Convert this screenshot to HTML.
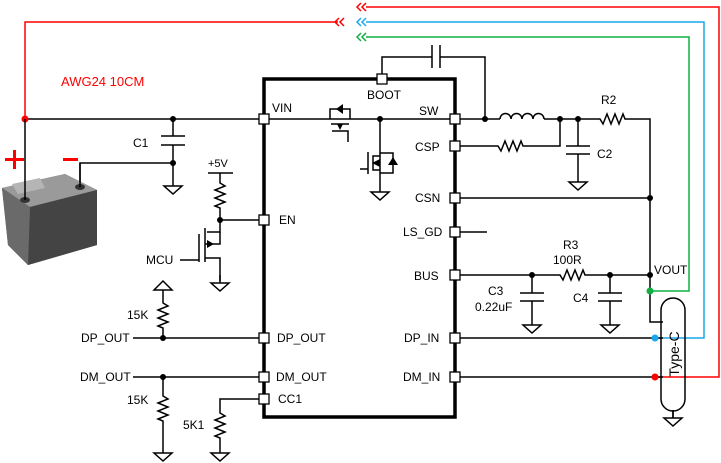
<!DOCTYPE html><html><head><style>body{margin:0;background:#fff}svg{display:block}text{font-family:"Liberation Sans",sans-serif;font-size:12px;fill:#000}</style></head><body>
<svg width="721" height="463" viewBox="0 0 721 463" xmlns="http://www.w3.org/2000/svg">
<defs>
<g id="gnd"><line x1="0" y1="0" x2="0" y2="8" stroke="#000" stroke-width="1.5"/><polygon points="-9,8 9,8 0,16" fill="#fff" stroke="#000" stroke-width="1.5"/></g>
<g id="resv"><polyline points="0,0 0,3 5,6 -5,10 5,14 -5,18 5,22 -5,26 0,28 0,30" fill="none" stroke="#000" stroke-width="1.5"/></g>
<g id="resh"><polyline points="0,0 3,0 6,5 10,-5 14,5 18,-5 22,5 26,-5 28,0 30,0" fill="none" stroke="#000" stroke-width="1.5"/></g>
</defs>
<g fill="none" stroke-width="1.5">
<polyline points="25,119 25,22 338,22" stroke="#f00"/>
<path d="M339,18 335,22 339,26 M344,18 340,22 344,26" stroke="#f00"/>
<path d="M361,3 357,7 361,11 M366,3 362,7 366,11" stroke="#f00"/>
<path d="M361,18 357,22 361,26 M366,18 362,22 366,26" stroke="#1aa7ec"/>
<path d="M361,33 357,37 361,41 M366,33 362,37 366,41" stroke="#10b040"/>
<polyline points="366,7 719,7 719,377 655,377" stroke="#f00"/>
<polyline points="366,22 704,22 704,338 655,338" stroke="#1aa7ec"/>
<polyline points="366,37 689,37 689,291 650,291" stroke="#10b040"/>
</g>
<g fill="none" stroke="#000" stroke-width="1.5">
<line x1="25" y1="119" x2="264" y2="119"/>
<line x1="173" y1="119" x2="173" y2="136"/>
<line x1="161" y1="136" x2="185" y2="136"/><line x1="161" y1="145" x2="185" y2="145"/>
<line x1="173" y1="145" x2="173" y2="178"/>
<polyline points="80,187 80,163 173,163"/>
<line x1="208" y1="173" x2="233" y2="173"/>
<line x1="220" y1="173" x2="220" y2="180"/>
<use href="#resv" x="220" y="180"/>
<polyline points="220,210 220,220 264,220"/>
<polyline points="220,220 220,232 207,232"/>
<line x1="205" y1="228" x2="205" y2="262"/>
<line x1="199" y1="234" x2="199" y2="262"/>
<polyline points="180,260 199,260"/>
<polyline points="205,244 220,244 220,232"/>
<polyline points="205,258 220,258 220,281"/>
<line x1="133" y1="338" x2="264" y2="338"/>
<line x1="163" y1="290" x2="163" y2="300"/>
<use href="#resv" x="163" y="300"/>
<line x1="163" y1="330" x2="163" y2="338"/>
<line x1="133" y1="377" x2="264" y2="377"/>
<line x1="163" y1="377" x2="163" y2="393"/>
<use href="#resv" x="163" y="393"/>
<line x1="163" y1="423" x2="163" y2="445"/>
<polyline points="264,399 220,399 220,410"/>
<use href="#resv" x="220" y="410"/>
<line x1="220" y1="440" x2="220" y2="445"/>
<line x1="264" y1="119" x2="455" y2="119"/>
<line x1="380" y1="119" x2="380" y2="184"/>
<polyline points="382,79 382,57 432,57"/><line x1="432" y1="45" x2="432" y2="68"/><line x1="440" y1="45" x2="440" y2="68"/>
<polyline points="440,57 485,57 485,119"/>
<line x1="455" y1="119" x2="500" y2="119"/>
<path d="M500,119 a5.5,5.5 0 0 1 11,0 a5.5,5.5 0 0 1 11,0 a5.5,5.5 0 0 1 11,0 a5.5,5.5 0 0 1 11,0"/>
<line x1="544" y1="119" x2="597" y2="119"/>
<use href="#resh" x="597" y="119"/>
<polyline points="627,119 650,119 650,291 650,322 663,322"/>
<polyline points="455,146 495,146"/><use href="#resh" x="495" y="146"/><polyline points="525,146 560,146 560,119"/>
<line x1="578" y1="119" x2="578" y2="146"/>
<line x1="566" y1="146" x2="590" y2="146"/><line x1="566" y1="154" x2="590" y2="154"/>
<line x1="578" y1="154" x2="578" y2="174"/>
<line x1="455" y1="198" x2="650" y2="198"/>
<line x1="455" y1="232" x2="487" y2="232"/>
<line x1="455" y1="275" x2="557" y2="275"/><use href="#resh" x="557" y="275"/><line x1="587" y1="275" x2="650" y2="275"/>
<line x1="532" y1="275" x2="532" y2="293"/><line x1="520" y1="293" x2="544" y2="293"/><line x1="520" y1="301" x2="544" y2="301"/><line x1="532" y1="301" x2="532" y2="317"/>
<line x1="610" y1="275" x2="610" y2="293"/><line x1="598" y1="293" x2="622" y2="293"/><line x1="598" y1="301" x2="622" y2="301"/><line x1="610" y1="301" x2="610" y2="317"/>
<line x1="455" y1="338" x2="663" y2="338"/>
<line x1="455" y1="377" x2="663" y2="377"/>
<rect x="661" y="298" width="24" height="113" rx="12"/>
<line x1="673" y1="411" x2="673" y2="418"/>
</g>
<use href="#gnd" x="173" y="178"/><use href="#gnd" x="220" y="275"/><use href="#gnd" x="163" y="445"/><use href="#gnd" x="220" y="445"/>
<use href="#gnd" x="380" y="184"/><use href="#gnd" x="578" y="174"/><use href="#gnd" x="532" y="317"/><use href="#gnd" x="610" y="317"/><use href="#gnd" x="673" y="410"/>
<polygon points="154,290 172,290 163,281" fill="#fff" stroke="#000" stroke-width="1.5"/>
<g fill="none" stroke="#000" stroke-width="1.5">
<polyline points="330,119 330,109 350,109 350,119"/><line x1="331" y1="124" x2="349" y2="124"/><polyline points="332,131 348,131 348,142"/>
<polyline points="380,156 373,156 373,170 380,170"/><line x1="368" y1="152" x2="368" y2="174"/><line x1="360" y1="169" x2="368" y2="169"/>
<polyline points="380,153 393,153 393,173 380,173"/>
</g>
<polygon points="336,109 343,104 343,114" fill="#000"/>
<polygon points="337,124 343,124 340,130" fill="#000"/>
<polygon points="388,165 398,165 393,157" fill="#000"/>
<polygon points="372,163 380,159 380,167" fill="#000"/>
<polygon points="207,240 214,244 207,248" fill="#000"/>
<rect x="264" y="79" width="191" height="338" fill="none" stroke="#000" stroke-width="3.5"/>
<g fill="#fff" stroke="#000" stroke-width="1.3">
<rect x="259" y="114" width="10" height="10"/><rect x="259" y="215" width="10" height="10"/><rect x="259" y="333" width="10" height="10"/><rect x="259" y="372" width="10" height="10"/><rect x="259" y="394" width="10" height="10"/>
<rect x="377" y="74" width="10" height="10"/>
<rect x="450" y="114" width="10" height="10"/><rect x="450" y="141" width="10" height="10"/><rect x="450" y="193" width="10" height="10"/><rect x="450" y="227" width="10" height="10"/><rect x="450" y="270" width="10" height="10"/><rect x="450" y="333" width="10" height="10"/><rect x="450" y="372" width="10" height="10"/>
</g>
<g fill="#000"><circle cx="173" cy="119" r="3"/><circle cx="173" cy="163" r="3"/><circle cx="220" cy="220" r="3"/><circle cx="163" cy="338" r="3"/><circle cx="163" cy="377" r="3"/><circle cx="380" cy="119" r="3"/><circle cx="485" cy="119" r="3"/><circle cx="560" cy="119" r="3"/><circle cx="578" cy="119" r="3"/><circle cx="650" cy="198" r="3"/><circle cx="532" cy="275" r="3"/><circle cx="610" cy="275" r="3"/><circle cx="650" cy="275" r="3"/></g>
<circle cx="25" cy="119" r="3.5" fill="#f00"/><circle cx="650" cy="291" r="3.5" fill="#10b040"/><circle cx="655" cy="338" r="3.5" fill="#1aa7ec"/><circle cx="655" cy="377" r="3.5" fill="#f00"/>
<!-- battery -->
<polygon points="2,188 65,174 97,190 97,245 28,265 8,245" fill="#555"/>
<polygon points="2,188 65,174 97,190 30,207" fill="#9a9a9a"/>
<polygon points="12,184 40,178 45,188 18,194" fill="#b5b5b5"/>
<polygon points="30,207 97,190 97,245 28,265" fill="#444"/>
<polygon points="2,188 30,207 28,265 8,245" fill="#6a6a6a"/>
<ellipse cx="25" cy="200" rx="5" ry="3" fill="#333"/><ellipse cx="80" cy="187" rx="5" ry="3" fill="#333"/>
<line x1="25" y1="119" x2="25" y2="200" stroke="#000" stroke-width="1.5"/>
<line x1="80" y1="163" x2="80" y2="187" stroke="#000" stroke-width="1.5"/>
<rect x="5" y="158" width="19" height="3" fill="#f00"/><rect x="13" y="150" width="3" height="19" fill="#f00"/>
<rect x="63" y="158" width="15" height="3" fill="#f00"/>
<text x="61" y="86" style="fill:#f00;font-size:13px">AWG24 10CM</text>
<text x="133" y="147">C1</text><text x="208" y="167" style="font-size:11px">+5V</text>
<text x="146" y="264">MCU</text><text x="127" y="319">15K</text><text x="81" y="342">DP_OUT</text><text x="80" y="381">DM_OUT</text><text x="127" y="404">15K</text><text x="183" y="429">5K1</text>
<text x="272" y="112">VIN</text><text x="279" y="224">EN</text><text x="277" y="342">DP_OUT</text><text x="276" y="381">DM_OUT</text><text x="278" y="403">CC1</text>
<text x="367" y="99">BOOT</text><text x="419" y="115">SW</text><text x="415" y="151">CSP</text><text x="415" y="202">CSN</text><text x="403" y="236">LS_GD</text><text x="414" y="280">BUS</text><text x="404" y="342">DP_IN</text><text x="403" y="381">DM_IN</text>
<text x="601" y="104">R2</text><text x="597" y="158">C2</text><text x="563" y="249">R3</text><text x="553" y="264">100R</text><text x="654" y="274">VOUT</text>
<text x="488" y="295">C3</text><text x="475" y="311">0.22uF</text><text x="573" y="302">C4</text>
<text transform="translate(679,354) rotate(-90)" text-anchor="middle" style="font-size:14px">Type-C</text>
</svg>
</body></html>
